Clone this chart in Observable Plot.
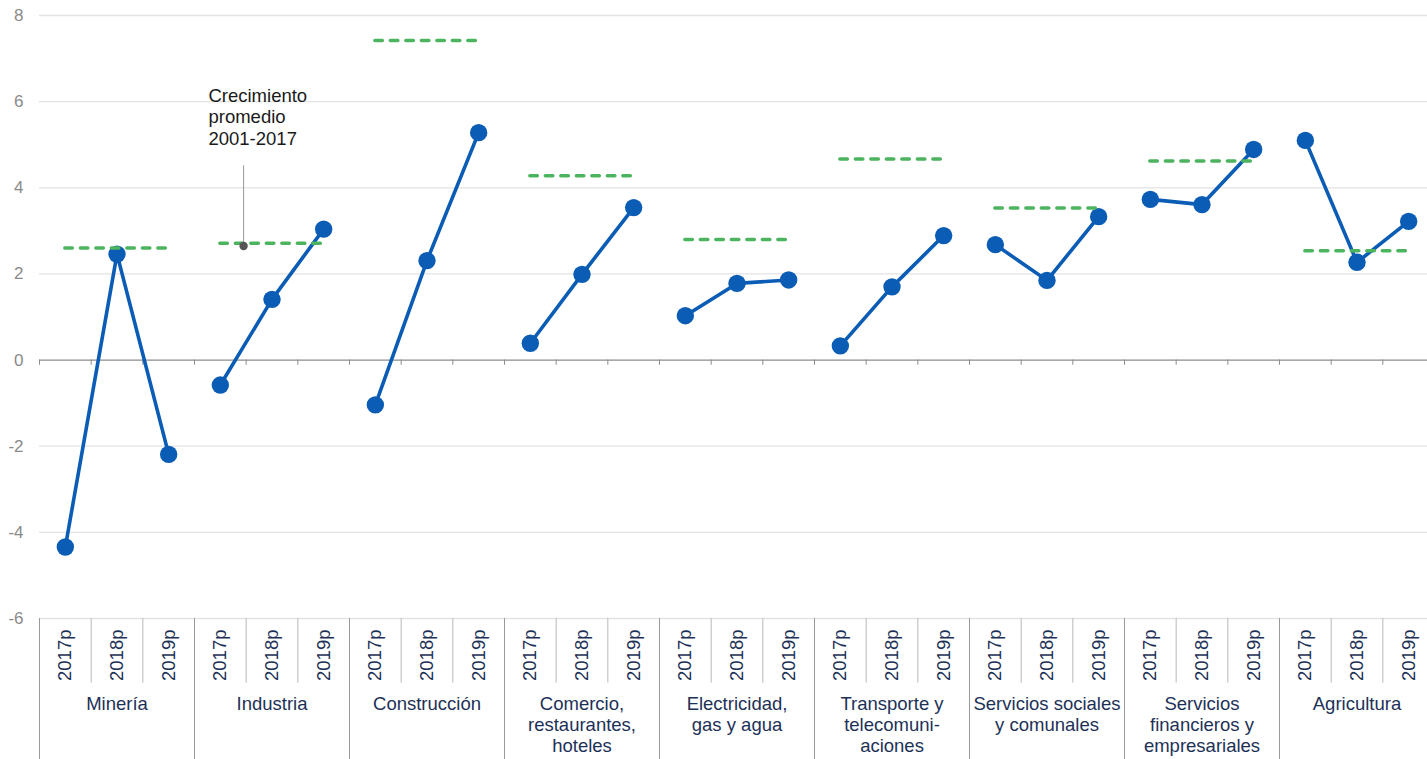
<!DOCTYPE html>
<html>
<head>
<meta charset="utf-8">
<script src="https://cdn.jsdelivr.net/npm/d3@7"></script>
<script src="https://cdn.jsdelivr.net/npm/@observablehq/plot@0.6"></script>
<style>
  html, body { margin: 0; padding: 0; background: #fff; overflow: hidden; }
  #chart { width: 1427px; height: 759px; overflow: hidden; }
  #chart svg { max-width: none !important; }
</style>
</head>
<body>
<div id="chart"></div>
<script>
const groups = [
  "Minería",
  "Industria",
  "Construcción",
  "Comercio,\nrestaurantes,\nhoteles",
  "Electricidad,\ngas y agua",
  "Transporte y\ntelecomuni-\naciones",
  "Servicios sociales\ny comunales",
  "Servicios\nfinancieros y\nempresariales",
  "Agricultura"
];
const years = ["2017p", "2018p", "2019p"];
const v2017 = [-4.34, -0.58, -1.04, 0.39, 1.03, 0.33, 2.68, 3.73, 5.10];
const v2018 = [2.46, 1.41, 2.31, 1.99, 1.78, 1.70, 1.85, 3.61, 2.27];
const v2019 = [-2.19, 3.04, 5.28, 3.54, 1.86, 2.89, 3.33, 4.89, 3.22];
const promedio = [2.60, 2.71, 7.42, 4.28, 2.80, 4.67, 3.53, 4.62, 2.54];
const yTicks = [-6, -4, -2, 0, 2, 4, 6, 8];
const annotationText = "Crecimiento\npromedio\n2001-2017";

const series = [v2017, v2018, v2019];
const rows = groups.flatMap((g, gi) =>
  years.map((yr, yi) => ({group: g, year: yr, pos: gi * 3 + yi + 0.5, value: series[yi][gi]}))
);
const avgRows = groups.map((g, gi) => ({group: g, start: gi * 3 + 0.5, end: gi * 3 + 2.5, value: promedio[gi]}));
const groupRows = groups.map((g, gi) => ({group: g, center: gi * 3 + 1.5}));
const boundaries = d3.range(0, groups.length * years.length + 1);
const yearSeps = boundaries.filter(b => b % 3 !== 0);
const groupSeps = boundaries.filter(b => b % 3 === 0);

const blue = "#0b5cb5";
const green = "#4cb35e";
const navy = "#1d3157";
const font = "'Liberation Sans', Arial, sans-serif";

const chart = Plot.plot({
  width: 1434,
  height: 759,
  marginTop: 15,
  marginBottom: 141,
  marginLeft: 39,
  marginRight: 0,
  style: {fontFamily: font, fontSize: "18px", background: "#fff", overflow: "visible", maxWidth: "none"},
  x: {domain: [0, groups.length * years.length], axis: null},
  y: {domain: [-6, 8], axis: null},
  marks: [
    Plot.gridY(yTicks.filter(t => t !== 0), {stroke: "#e3e3e3", strokeOpacity: 1, strokeWidth: 1.3}),
    Plot.axisY(yTicks, {tickSize: 0, tickPadding: 16, tickFormat: d => String(d), fill: "#8a8a8a", fontSize: 17, fontFamily: font}),
    Plot.ruleY([0], {stroke: "#8c8c8c", strokeWidth: 1.2}),
    Plot.ruleX(boundaries, {x: d => d, y1: 0, y2: -0.12, stroke: "#8c8c8c", strokeWidth: 1}),
    Plot.ruleX(yearSeps, {x: d => d, y1: -6, y2: -7.5, stroke: "#b8b8b8", strokeWidth: 1}),
    Plot.ruleX(groupSeps, {x: d => d, y1: -6, y2: -9.5, stroke: "#9a9a9a", strokeWidth: 1}),
    Plot.line(rows, {x: "pos", y: "value", z: "group", stroke: blue, strokeWidth: 3.6}),
    Plot.dot(rows, {x: "pos", y: "value", r: 8.7, fill: blue, stroke: "none"}),
    Plot.ruleY(avgRows, {y: "value", x1: "start", x2: "end", stroke: green, strokeWidth: 3.5, strokeDasharray: "7.5,8", strokeLinecap: "round"}),
    Plot.ruleX([{x: 3.95}], {x: "x", y1: 2.66, y2: 4.51, stroke: "#9a9a9a", strokeWidth: 1}),
    Plot.dot([{x: 3.95, y: 2.65}], {x: "x", y: "y", r: 4.2, fill: "#555", stroke: "none"}),
    Plot.text([{x: 3.27, y: 6.36, t: annotationText}], {x: "x", y: "y", text: "t", textAnchor: "start", lineAnchor: "top", lineHeight: 1.17, fill: "#1a1a1a", fontSize: 18.5}),
    Plot.text(rows, {x: "pos", text: "year", frameAnchor: "bottom", dy: 11, rotate: -90, textAnchor: "end", lineAnchor: "middle", fill: navy, fontSize: 18.5}),
    Plot.text(groupRows, {x: "center", text: "group", frameAnchor: "bottom", dy: 76, lineAnchor: "top", lineHeight: 1.15, textAnchor: "middle", fill: navy, fontSize: 18.5})
  ]
});
document.getElementById("chart").appendChild(chart);
</script>
</body>
</html>
